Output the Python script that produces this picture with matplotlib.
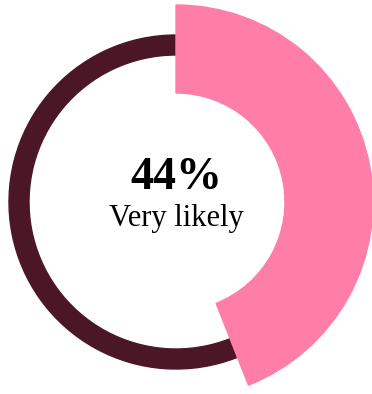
import matplotlib.pyplot as plt
from matplotlib.patches import Wedge

share = 44  # percent "Very likely"
label = "Very likely"
colors = ["#FF7EA7", "#4B1727"]

fig = plt.figure(figsize=(3.72, 3.94), dpi=100)
ax = fig.add_axes([0, 0, 1, 1])
ax.set_xlim(-176, 196)
ax.set_ylim(-192, 202)
ax.set_aspect("equal")
ax.axis("off")

end_angle = 90 - share / 100 * 360
# remaining part: thin dark ring
ax.add_patch(Wedge((0, 0), 167, 90, end_angle + 360, width=20, color=colors[1]))
# highlighted part: thick pink segment
ax.add_patch(Wedge((0, 0), 197, end_angle, 90, width=88, color=colors[0]))

ax.text(0, 24, f"{share}%", ha="center", va="center", fontsize=33,
        fontweight="bold", family="Liberation Serif")
ax.text(0, -16, label, ha="center", va="center", fontsize=22,
        family="Liberation Serif")

fig.savefig("out.png", dpi=100)
